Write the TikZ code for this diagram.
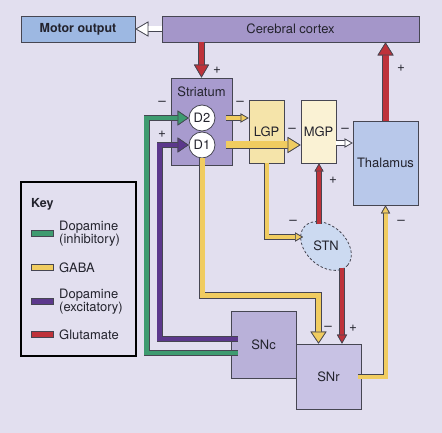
\documentclass[tikz,border=0pt]{standalone}
\usepackage{fontspec}
\setmainfont{TeX Gyre Heros}
\usetikzlibrary{arrows.meta,shapes.geometric}

\definecolor{paper}{RGB}{226,223,239}
\definecolor{edgegray}{RGB}{70,70,82}
\definecolor{textgray}{RGB}{35,35,45}
\definecolor{motorblue}{RGB}{157,184,226}
\definecolor{cortexpurple}{RGB}{164,150,201}
\definecolor{striatumpurple}{RGB}{168,155,206}
\definecolor{lgpyellow}{RGB}{245,228,170}
\definecolor{mgpyellow}{RGB}{250,242,212}
\definecolor{thalblue}{RGB}{184,200,234}
\definecolor{stnblue}{RGB}{204,218,241}
\definecolor{sncpurple}{RGB}{185,177,217}
\definecolor{snrpurple}{RGB}{200,194,228}
\definecolor{glured}{RGB}{190,50,58}
\definecolor{gabayellow}{RGB}{240,204,96}
\definecolor{dagreen}{RGB}{62,155,112}
\definecolor{dapurple}{RGB}{92,56,140}

\tikzset{
  every node/.style={font=\fontsize{13}{12}\selectfont, text=textgray},
  area/.style 2 args={draw=edgegray, line width=.8bp, minimum width=#1, minimum height=#2, inner sep=0pt},
  receptor/.style={circle, draw=edgegray, line width=.8bp, fill=white, minimum size=26bp, inner sep=0pt},
  tract/.style={line width=#1, preaction={draw=edgegray, line width=#1+1.3bp}},
  ahead/.style n args={3}{-{Triangle[length=#2, width=#3, fill=#1, color=edgegray, line width=.7bp]}},
  sign/.style={font=\fontsize{13.5}{12}\selectfont, inner sep=0pt},
}

\begin{document}
\begin{tikzpicture}[x=1bp, y=-1bp, line join=miter]
  \useasboundingbox (0,0) rectangle (442,433);
  \fill[paper] (0,0) rectangle (442,433);

  % boxes
  \node[area={114bp}{26bp}, fill=motorblue, font=\bfseries\fontsize{12.5}{12}\selectfont] (motor) at (78,29) {Motor output};
  \node[area={257bp}{26bp}, fill=cortexpurple] (cortex) at (290.5,29) {Cerebral cortex};
  \node[area={61bp}{87bp}, fill=striatumpurple] (striatum) at (201.5,121.5) {};
  \node (striatumlabel) at (201.5,92) {Striatum};
  \node[area={35bp}{63bp}, fill=lgpyellow] (lgp) at (266.5,131.5) {LGP};
  \node[area={35bp}{63bp}, fill=mgpyellow] (mgp) at (318.5,131.5) {MGP};
  \node[area={65bp}{84bp}, fill=thalblue] (thal) at (385.5,163) {Thalamus};
  \node[ellipse, draw=edgegray, line width=.8bp, dash pattern=on 2.5bp off 2bp, fill=stnblue,
        minimum width=58bp, minimum height=40bp, rotate=-42] (stn) at (326,246) {};
  \node (stnlabel) at (326,246) {STN};
  \node[area={65bp}{67bp}, fill=sncpurple] (snc) at (263.5,344.5) {SNc};
  \node[area={65bp}{65bp}, fill=snrpurple] (snr) at (328.5,376.5) {SNr};

  \coordinate (stnin) at (303,237);
  \coordinate (stnup) at (319,224);
  \coordinate (stndown) at (342,268);

  % pathways
  \draw[draw=white, tract=5bp, ahead={white}{13bp}{15bp}] (cortex.west) -- (motor.east);
  \draw[draw=glured, tract=5bp, ahead={glured}{13bp}{15bp}] (cortex.south -| striatum.north) -- (striatum.north);
  \draw[draw=glured, tract=6bp, ahead={glured}{13bp}{16bp}] (thal.north) -- (thal.north |- cortex.south);

  \node[receptor] (d2) at (202,118) {D2};
  \node[receptor] (d1) at (202,145) {D1};

  \draw[draw=gabayellow, tract=4bp, ahead={gabayellow}{8bp}{9bp}] ([xshift=-6bp]striatum.east |- d2) -- (lgp.west |- d2);
  \draw[draw=gabayellow, tract=7bp, ahead={gabayellow}{13bp}{16bp}] ([xshift=-6bp]striatum.east |- d1) -- (mgp.west |- d1);
  \draw[draw=white, tract=4bp, ahead={white}{8bp}{9bp}] ([yshift=-11.5bp]mgp.east) -- ([yshift=-11.5bp]mgp.east -| thal.west);
  \draw[draw=gabayellow, tract=4bp, ahead={gabayellow}{8bp}{9bp}] (lgp.south) |- (stnin);
  \draw[draw=glured, tract=4.5bp, ahead={glured}{8bp}{9bp}] (stnup) -- (stnup |- mgp.south);
  \draw[draw=glured, tract=4.5bp, ahead={glured}{9bp}{10bp}] (stndown) -- (stndown |- snr.north);
  \draw[draw=gabayellow, tract=5bp, ahead={gabayellow}{12bp}{16bp}] (d1.south) |- ([xshift=-10bp,yshift=48bp]snr.north) -- ([xshift=-10bp]snr.north);
  \draw[draw=gabayellow, tract=4bp, ahead={gabayellow}{8bp}{9bp}] ([xshift=-3bp]snr.east) -| (thal.south);
  \draw[draw=dapurple, tract=4.5bp, ahead={dapurple}{11bp}{15bp}] ([xshift=7bp,yshift=5.5bp]snc.west) -- ++(-78,0) |- (d1.west);
  \draw[draw=dagreen, tract=4.5bp, ahead={dagreen}{11bp}{15bp}] ([xshift=7bp,yshift=-8.5bp]snc.west) -- ++(-91,0) |- (d2.west);

  % signs
  \foreach \sx/\sy/\s [count=\i] in {217/70/+, 162/103/–, 162/134/+, 240/103/–, 292/130/–, 345/130/–,
      401/68/+, 333/180/+, 293/222/–, 401/222/–, 328/328/–, 353/328/+}
    \node[sign] (sign\i) at (\sx,\sy) {\s};

  % key
  \node[draw=black, line width=1.5bp, minimum width=115bp, minimum height=174bp] (key) at (78.5,269) {};
  \node[anchor=west, inner sep=0pt, font=\bfseries\fontsize{12.5}{12}\selectfont] (keytitle) at (31,204) {Key};
  \foreach \col/\ypos/\txt [count=\i] in {dagreen/233/{Dopamine\\(inhibitory)}, gabayellow/267/GABA,
      dapurple/301/{Dopamine\\(excitatory)}, glured/334/Glutamate}{
    \filldraw[draw=edgegray, line width=.6bp, fill=\col] (31,\ypos-3) rectangle (53,\ypos+3);
    \node[anchor=west, align=left, inner sep=0pt] (keyentry\i) at (59,\ypos+1) {\txt};
  }
\end{tikzpicture}
\end{document}
